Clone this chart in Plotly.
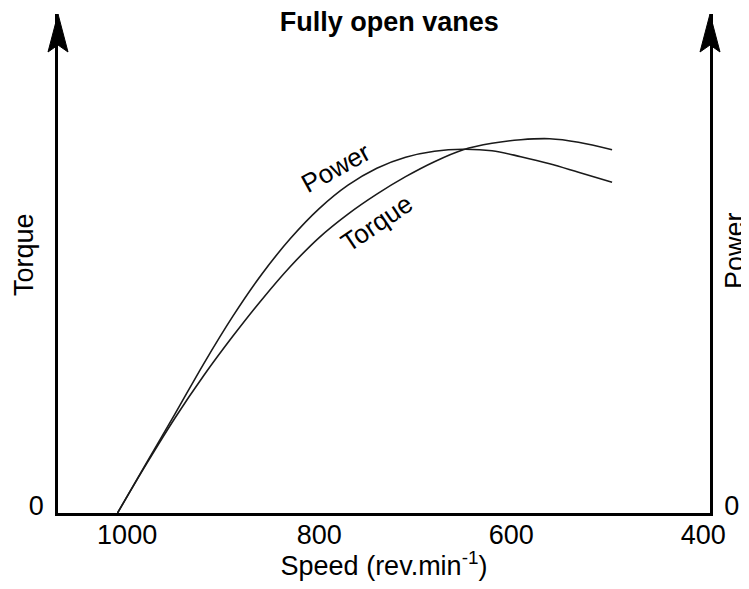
import plotly.graph_objects as go

# Data
power_rpm = [1010, 980, 950, 920, 890, 860, 830, 800, 770, 740, 710, 680, 650, 620, 590, 560, 530, 495]
power_val = [0, 10.0, 19.9, 30.0, 39.4, 47.8, 55.0, 61.0, 65.7, 69.1, 71.3, 72.5, 72.9, 72.6, 71.4, 70.0, 68.3, 66.3]
torque_rpm = [1010, 980, 950, 920, 890, 860, 830, 800, 770, 740, 710, 680, 650, 620, 590, 560, 530, 495]
torque_val = [0, 9.8, 19.1, 27.6, 35.4, 42.7, 49.4, 55.2, 59.9, 63.9, 67.4, 70.4, 72.8, 74.1, 74.8, 75.0, 74.3, 72.8]
x_ticks = [1000, 800, 600, 400]

FONT = "Liberation Sans, Arial, Helvetica, sans-serif"
LINE = "#1a1a1a"
FS = 27

fig = go.Figure()
fig.add_trace(go.Scatter(x=torque_rpm, y=torque_val, mode="lines",
                         line=dict(color=LINE, width=1.6, shape="spline", smoothing=1.0),
                         name="Torque", showlegend=False, hoverinfo="skip"))
fig.add_trace(go.Scatter(x=power_rpm, y=power_val, mode="lines", yaxis="y2",
                         line=dict(color=LINE, width=1.6, shape="spline", smoothing=1.0),
                         name="Power", showlegend=False, hoverinfo="skip"))

axis_common = dict(showgrid=False, zeroline=False, showline=True, linecolor="black",
                   linewidth=2.5, ticks="", tickfont=dict(family=FONT, size=FS, color="black"))

# The page body adds an 8px margin around the figure
fig.update_layout(
    width=741, height=573,
    margin=dict(l=50, r=39, t=6, b=68),
    paper_bgcolor="white", plot_bgcolor="white",
    font=dict(family=FONT, size=FS, color="black"),
    title=dict(text="<b>Fully open vanes</b>", x=0.508, xref="paper", xanchor="center",
               y=1 - 14 / 573, yref="container", yanchor="middle",
               font=dict(family=FONT, size=27, color="black")),
    xaxis=dict(range=[1072, 393], tickvals=x_ticks, ticktext=[str(v) for v in x_ticks],
               ticklabelstandoff=-4,
               title=dict(text="Speed (rev.min<sup>-1</sup>)", standoff=4,
                          font=dict(family=FONT, size=FS, color="black")),
               **axis_common),
    yaxis=dict(range=[0, 100], tickvals=[0], ticktext=["0"], side="left",
               ticklabelstandoff=6, ticklabelshift=-7, **axis_common),
    yaxis2=dict(range=[0, 100], tickvals=[0], ticktext=["0"], side="right", overlaying="y",
                ticklabelstandoff=6, ticklabelshift=-7, **axis_common),
    annotations=[
        dict(text="Torque", xref="paper", yref="paper", x=0, y=0.517, xshift=-34,
             textangle=-90, showarrow=False, xanchor="center", yanchor="middle",
             font=dict(family=FONT, size=FS)),
        dict(text="Power", xref="paper", yref="paper", x=1, y=0.525, xshift=25,
             textangle=-90, showarrow=False, xanchor="center", yanchor="middle",
             font=dict(family=FONT, size=FS)),
        dict(text="Power", x=783, y=69.1, xref="x", yref="y", textangle=-29,
             showarrow=False, xanchor="center", yanchor="middle",
             font=dict(family=FONT, size=26)),
        dict(text="Torque", x=740, y=58.1, xref="x", yref="y", textangle=-34,
             showarrow=False, xanchor="center", yanchor="middle",
             font=dict(family=FONT, size=26)),
    ],
    shapes=[
        dict(type="path", xref="paper", yref="paper", xsizemode="pixel", ysizemode="pixel",
             xanchor=xa, yanchor=1, path="M 0,0 L -10,-38 L 0,-31 L 10,-38 Z",
             fillcolor="black", line=dict(color="black", width=1))
        for xa in (0, 1)
    ],
)

fig.write_html("out.html")
